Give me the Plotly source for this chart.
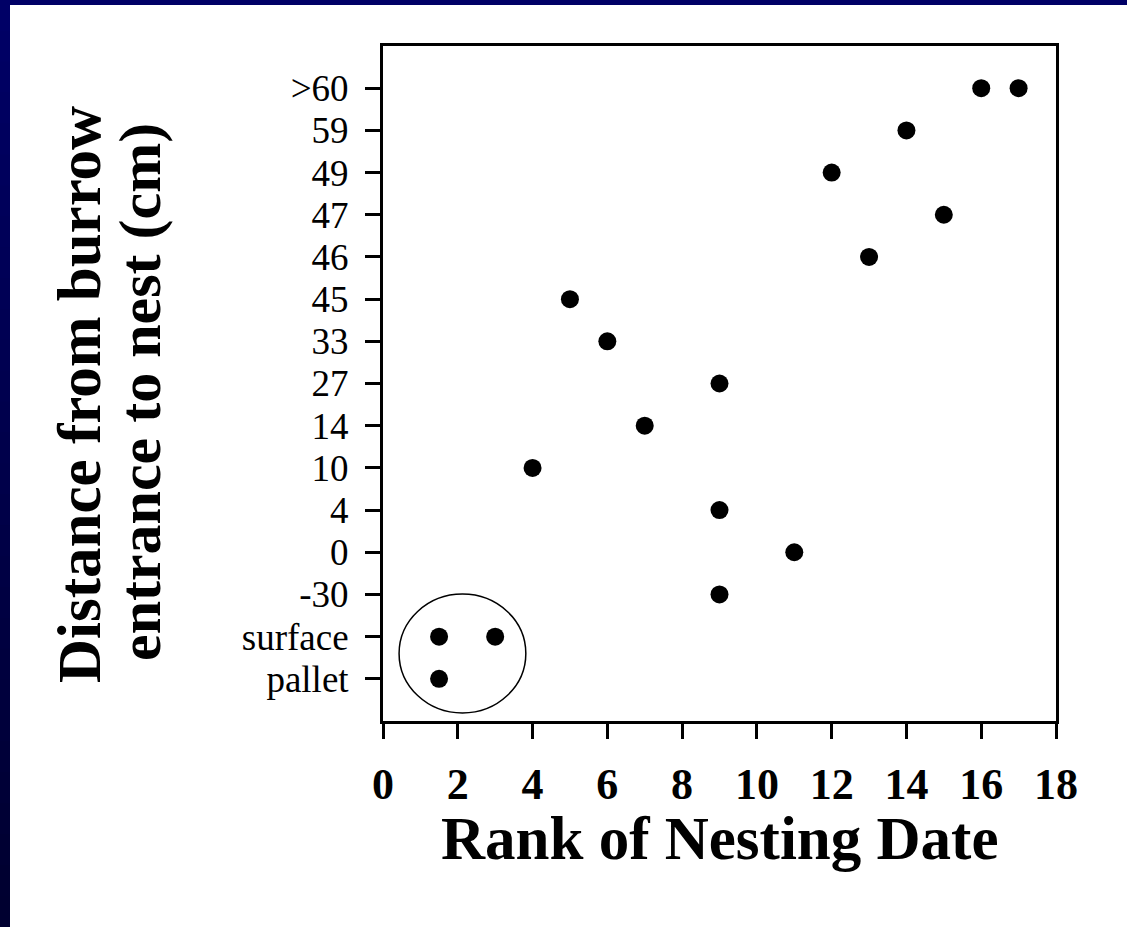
import plotly.graph_objects as go

# Category labels of the y axis, bottom to top
distance_labels = ["pallet", "surface", "-30", "0", "4", "10", "14", "27",
                   "33", "45", "46", "47", "49", "59", ">60"]

# Rank of nesting date and the distance category of each nest
rank = [1.5, 1.5, 3, 9, 11, 9, 4, 7, 9, 6, 5, 13, 15, 12, 14, 16, 17]
distance = ["pallet", "surface", "surface", "-30", "0", "4", "10", "14", "27",
            "33", "45", "46", "47", "49", "59", ">60", ">60"]

x_ticks = list(range(0, 19, 2))

serif = "Times New Roman, Liberation Serif, serif"

y_pos = [distance_labels.index(d) for d in distance]

fig = go.Figure()
fig.add_trace(go.Scatter(
    x=rank, y=y_pos, mode="markers",
    marker=dict(color="black", size=18),
    showlegend=False, hoverinfo="skip",
))

# Circle around the surface / pallet nests
fig.add_shape(type="circle", xref="x", yref="y",
              x0=0.43, x1=3.82, y0=-0.81, y1=2.01,
              line=dict(color="black", width=1.5))

# Navy slide border: top bar and a left bar that darkens downwards
W, H = 1127, 927
L, R, T, B = 383, 1056, 46, 721


def px_x(p):
    return (p - L) / (R - L)


def px_y(p):
    return (B - p) / (B - T)


fig.add_shape(type="rect", xref="paper", yref="paper",
              x0=px_x(0), x1=px_x(W), y0=px_y(0), y1=px_y(5),
              fillcolor="#000066", line_width=0, layer="above")
n = 30
for i in range(n):
    f = i / (n - 1)
    g = int(0x66 - f * (0x66 - 0x30))
    fig.add_shape(type="rect", xref="paper", yref="paper",
                  x0=px_x(0), x1=px_x(10),
                  y0=px_y(i * H / n), y1=px_y((i + 1) * H / n + 1),
                  fillcolor=f"rgb(0,0,{g})", line_width=0, layer="above")

# Axis titles
fig.add_annotation(text="<b>Rank of Nesting Date</b>", xref="paper", yref="paper",
                   x=0.5, y=px_y(838), xanchor="center", yanchor="middle",
                   showarrow=False,
                   font=dict(family=serif, size=61, color="black"))
fig.add_annotation(text="<b>Distance from burrow</b>", xref="paper", yref="paper",
                   x=px_x(80), y=px_y(395), xanchor="center", yanchor="middle",
                   textangle=-90, showarrow=False,
                   font=dict(family=serif, size=61, color="black"))
fig.add_annotation(text="<b>entrance to nest (cm)</b>", xref="paper", yref="paper",
                   x=px_x(140), y=px_y(392), xanchor="center", yanchor="middle",
                   textangle=-90, showarrow=False,
                   font=dict(family=serif, size=60, color="black"))

fig.update_layout(
    width=W, height=H,
    margin=dict(l=L, r=W - R, t=T, b=H - B),
    paper_bgcolor="white", plot_bgcolor="white",
    font=dict(family=serif, color="black"),
    xaxis=dict(
        range=[0, 18], tickvals=x_ticks, ticktext=[f"<b>{v}</b>" for v in x_ticks],
        showgrid=False, zeroline=False,
        showline=True, linecolor="black", linewidth=3, mirror=True,
        ticks="outside", ticklen=15, tickwidth=3, tickcolor="black",
        ticklabelstandoff=7,
        tickfont=dict(family=serif, size=44, color="black"),
    ),
    yaxis=dict(
        range=[-1, 15], tickvals=list(range(len(distance_labels))),
        ticktext=distance_labels,
        showgrid=False, zeroline=False,
        showline=True, linecolor="black", linewidth=3, mirror=True,
        ticks="outside", ticklen=15, tickwidth=3, tickcolor="black",
        ticklabelstandoff=9,
        tickfont=dict(family=serif, size=37, color="black"),
    ),
)

# Drop the page's default body margin so the figure sits at the corner
fig.write_html("out.html", config={"displayModeBar": False},
               post_script="document.body.style.margin='0';"
                           "document.body.style.overflow='hidden';")
